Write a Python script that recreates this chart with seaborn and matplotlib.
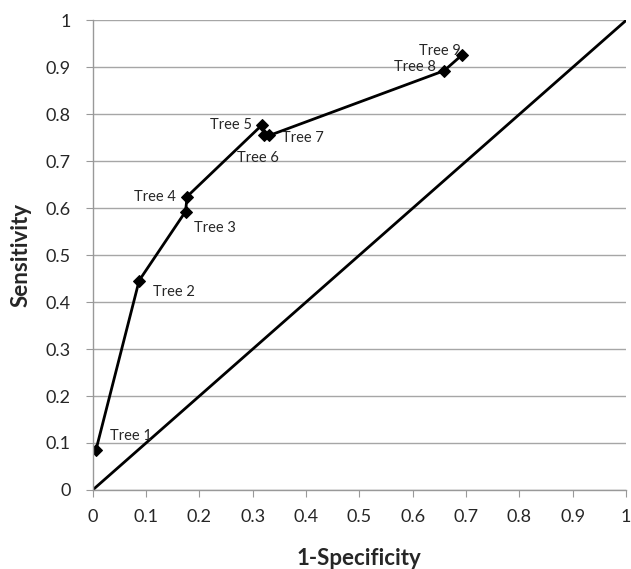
import matplotlib
matplotlib.use("Agg")
import matplotlib.pyplot as plt
import seaborn as sns
import pandas as pd

# ROC points
trees = ['Tree 1', 'Tree 2', 'Tree 3', 'Tree 4', 'Tree 5', 'Tree 6', 'Tree 7', 'Tree 8', 'Tree 9']
fpr = [0.006, 0.087, 0.174, 0.177, 0.317, 0.322, 0.331, 0.659, 0.692]
tpr = [0.085, 0.446, 0.593, 0.625, 0.777, 0.755, 0.755, 0.893, 0.926]
ticks = [0, 0.1, 0.2, 0.3, 0.4, 0.5, 0.6, 0.7, 0.8, 0.9, 1]
tick_labels = ['0', '0.1', '0.2', '0.3', '0.4', '0.5', '0.6', '0.7', '0.8', '0.9', '1']

df = pd.DataFrame({'tree': trees, 'fpr': fpr, 'tpr': tpr})

sns.set_style("white")
plt.rcParams['font.family'] = ['Lato', 'DejaVu Sans']

fig = plt.figure(figsize=(6.31, 5.69), dpi=100)
ax = fig.add_axes([0.147, 0.139, 0.845, 0.825])

# chance diagonal
sns.lineplot(x=[0, 1], y=[0, 1], color='black', linewidth=2, ax=ax)
sns.lineplot(data=df, x='fpr', y='tpr', sort=False, estimator=None,
             color='black', linewidth=2, marker='D', markersize=6,
             markeredgecolor='black', ax=ax)

# label offsets (points): dx, dy, ha
offsets = {
    'Tree 1': (10, 10, 'left'),
    'Tree 2': (10, -8, 'left'),
    'Tree 3': (6, -12, 'left'),
    'Tree 4': (-8, 0, 'right'),
    'Tree 5': (-7, 0, 'right'),
    'Tree 6': (-20, -16, 'left'),
    'Tree 7': (9, -2, 'left'),
    'Tree 8': (-6, 3, 'right'),
    'Tree 9': (-1, 3, 'right'),
}
for t, x, y in zip(trees, fpr, tpr):
    dx, dy, ha = offsets[t]
    ax.annotate(t, (x, y), xytext=(dx, dy), textcoords='offset points',
                ha=ha, va='center', fontsize=10.5)

ax.set_xlim(0, 1)
ax.set_ylim(0, 1)
ax.set_xticks(ticks)
ax.set_xticklabels(tick_labels)
ax.set_yticks(ticks)
ax.set_yticklabels(tick_labels)
ax.tick_params(axis='both', labelsize=13, length=5, color='#999999', direction='out',
               left=True, bottom=True)
ax.tick_params(axis='x', pad=9)
ax.tick_params(axis='y', pad=11)
ax.yaxis.grid(True, color='#a6a6a6', linewidth=1)
ax.set_axisbelow(True)

for s in ['top', 'right']:
    ax.spines[s].set_visible(False)
for s in ['left', 'bottom']:
    ax.spines[s].set_color('#999999')
    ax.spines[s].set_linewidth(1)

ax.set_xlabel('1-Specificity', fontsize=16, fontweight='bold', labelpad=16)
ax.set_ylabel('Sensitivity', fontsize=16, fontweight='bold', labelpad=10)

fig.savefig("out.png", dpi=100)
